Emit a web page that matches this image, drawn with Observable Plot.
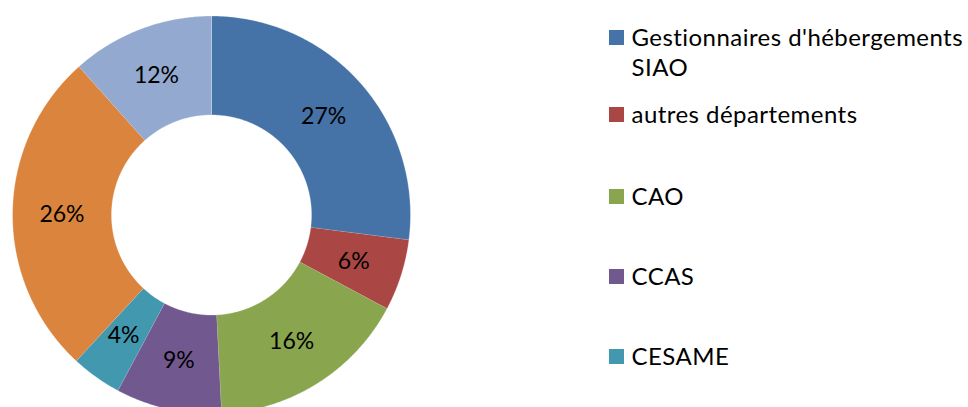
<!DOCTYPE html>
<html><head><meta charset="utf-8">
<script src="https://cdn.jsdelivr.net/npm/d3@7"></script>
<script src="https://cdn.jsdelivr.net/npm/@observablehq/plot@0.6"></script>
<style>
html,body{margin:0;padding:0;background:#fff;overflow:hidden;width:968px;height:407px}
#wrap{position:relative;width:968px;height:407px;overflow:hidden}
#chart{position:absolute;left:0;top:0}
#legend{position:absolute;left:609px;top:0;width:359px;font-family:Lato,"Open Sans",sans-serif;font-size:24px;letter-spacing:0.45px;line-height:30px;color:#000}
.item{position:absolute;left:0;display:flex;align-items:flex-start}
.sw{width:15px;height:15px;flex:none;margin-top:8px;margin-right:7.5px}
.lab{width:336px}
</style></head><body><div id="wrap"><div id="chart"></div><div id="legend"></div></div>
<script>
const categories = ["Gestionnaires d'hébergements SIAO", "autres départements", "CAO", "CCAS", "CESAME", "", ""];
const sliceShares = [27.0, 5.8, 16.4, 8.6, 4.1, 26.5, 11.6];
const labelPercents = [27, 6, 16, 9, 4, 26, 12];
const colors = ["#4572A7", "#AA4643", "#89A54E", "#71588F", "#4198AF", "#DB843D", "#93A9CF"];
const legendCount = 5;
const legendTops = [22.4, 99.0, 180.7, 260.7, 340.7];

const innerRatio = 100 / 199;
const total = d3.sum(sliceShares);
let acc = 0;
const polys = [];
sliceShares.forEach((v, i) => {
  const a0 = acc / total * 2 * Math.PI; acc += v; const a1 = acc / total * 2 * Math.PI;
  const n = Math.max(2, Math.ceil((a1 - a0) / (Math.PI / 360)));
  for (let k = 0; k <= n; k++) { const a = a0 + (a1 - a0) * k / n; polys.push({cat: i, x: Math.sin(a), y: Math.cos(a)}); }
  for (let k = n; k >= 0; k--) { const a = a0 + (a1 - a0) * k / n; polys.push({cat: i, x: innerRatio * Math.sin(a), y: innerRatio * Math.cos(a)}); }
});
const labelTotal = d3.sum(labelPercents);
let lacc = 0;
const labels = labelPercents.map(p => {
  const mid = (lacc + p / 2) / labelTotal * 2 * Math.PI; lacc += p;
  const r = (1 + innerRatio) / 2;
  return {x: r * Math.sin(mid), y: r * Math.cos(mid), text: p + "%"};
});

const chart = Plot.plot({
  width: 968, height: 407,
  x: {domain: [-1, 1], range: [12, 410], axis: null},
  y: {domain: [-1, 1], range: [413.5, 15.5], axis: null},
  style: {fontFamily: "Lato, 'Open Sans', sans-serif", background: "transparent", overflow: "hidden"},
  marks: [
    ...categories.map((c, i) => Plot.line(polys.filter(p => p.cat === i), {x: "x", y: "y", fill: colors[i], stroke: "white", strokeWidth: 0.6, strokeOpacity: 0.5})),
    Plot.text(labels, {x: "x", y: "y", text: "text", fontSize: 23, fill: "black"})
  ]
});
document.getElementById("chart").appendChild(chart);

const legend = document.getElementById("legend");
categories.slice(0, legendCount).forEach((c, i) => {
  const item = document.createElement("div");
  item.className = "item";
  item.style.top = legendTops[i] + "px";
  const sw = document.createElement("div"); sw.className = "sw"; sw.style.background = colors[i];
  const lab = document.createElement("div"); lab.className = "lab"; lab.textContent = c;
  item.appendChild(sw); item.appendChild(lab); legend.appendChild(item);
});
</script></body></html>
